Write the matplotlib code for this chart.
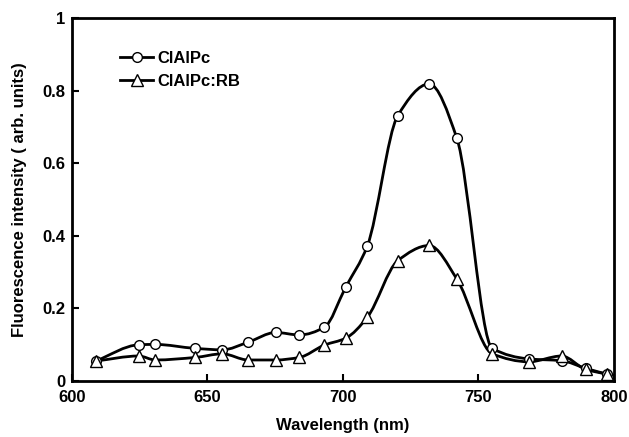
import matplotlib
matplotlib.use("Agg")
import matplotlib.pyplot as plt
from matplotlib.path import Path
from matplotlib.patches import PathPatch
from matplotlib.lines import Line2D
import numpy as np

# data
wavelength = [608.7, 624.7, 630.7, 645.5, 655.5, 665.0, 675.2, 683.9, 693.1, 701.0,
              709.0, 720.2, 731.8, 742.0, 755.1, 768.6, 780.7, 789.6, 797.3]
clalpc = [0.054, 0.099, 0.100, 0.089, 0.085, 0.106, 0.133, 0.126, 0.147, 0.258,
          0.372, 0.731, 0.819, 0.670, 0.089, 0.060, 0.055, 0.034, 0.018]
clalpc_rb = [0.054, 0.068, 0.057, 0.064, 0.074, 0.057, 0.057, 0.064, 0.098, 0.117,
             0.175, 0.331, 0.373, 0.281, 0.074, 0.052, 0.068, 0.031, 0.018]

x_ticks = [600, 650, 700, 750, 800]
y_ticks = [0, 0.2, 0.4, 0.6, 0.8, 1]
y_labels = ["0", "0.2", "0.4", "0.6", "0.8", "1"]

plt.rcParams['font.family'] = ['Liberation Sans', 'DejaVu Sans']
FS = 12


def smooth_path(xs, ys):
    # monotone (pchip-like) tangents, each segment handed to matplotlib as a bezier
    x = np.asarray(xs, float)
    y = np.asarray(ys, float)
    h = np.diff(x)
    d = np.diff(y) / h
    m = np.zeros_like(y)
    m[0], m[-1] = d[0], d[-1]
    for i in range(1, len(y) - 1):
        if d[i - 1] * d[i] > 0:
            w1 = 2 * h[i] + h[i - 1]
            w2 = h[i] + 2 * h[i - 1]
            m[i] = (w1 + w2) / (w1 / d[i - 1] + w2 / d[i])
    verts = [(x[0], y[0])]
    codes = [Path.MOVETO]
    for i in range(len(x) - 1):
        verts += [(x[i] + h[i] / 3, y[i] + m[i] * h[i] / 3),
                  (x[i + 1] - h[i] / 3, y[i + 1] - m[i + 1] * h[i] / 3),
                  (x[i + 1], y[i + 1])]
        codes += [Path.CURVE4] * 3
    return Path(verts, codes)


fig = plt.figure(figsize=(6.29, 4.37), dpi=100)
ax = fig.add_axes([0.1145, 0.129, 0.8615, 0.829])

lw = 2.0
ax.add_patch(PathPatch(smooth_path(wavelength, clalpc), fill=False, lw=lw,
                       edgecolor='black', zorder=2))
ax.add_patch(PathPatch(smooth_path(wavelength, clalpc_rb), fill=False, lw=lw,
                       edgecolor='black', zorder=2))
ax.plot(wavelength, clalpc, ls='none', marker='o', ms=7, mfc='white',
        mec='black', mew=1.0, zorder=3)
ax.plot(wavelength, clalpc_rb, ls='none', marker='^', ms=9, mfc='white',
        mec='black', mew=1.0, zorder=3)

ax.set_xlim(600, 800)
ax.set_ylim(0, 1)
ax.set_xticks(x_ticks)
ax.set_yticks(y_ticks)
ax.set_yticklabels(y_labels)
ax.tick_params(direction='in', length=5, width=1.5, labelsize=FS)
ax.tick_params(axis='x', pad=7)
ax.tick_params(axis='y', pad=5)
for lab in ax.get_xticklabels() + ax.get_yticklabels():
    lab.set_fontweight('bold')
for s in ax.spines.values():
    s.set_linewidth(2.0)

ax.set_xlabel('Wavelength (nm)', fontsize=FS, fontweight='bold', labelpad=9)
ax.set_ylabel('Fluorescence intensity ( arb. units)', fontsize=FS,
              fontweight='bold', labelpad=11)

handles = [
    Line2D([], [], color='black', lw=lw, marker='o', ms=7, mfc='white', mec='black'),
    Line2D([], [], color='black', lw=lw, marker='^', ms=9, mfc='white', mec='black'),
]
ax.legend(handles, ['ClAlPc', 'ClAlPc:RB'], loc='upper left',
          bbox_to_anchor=(0.073, 0.932), frameon=False, handlelength=2.0,
          handletextpad=0.25, labelspacing=0.45, borderpad=0,
          prop={'size': FS, 'weight': 'bold'})

fig.savefig('out.png', dpi=100)
